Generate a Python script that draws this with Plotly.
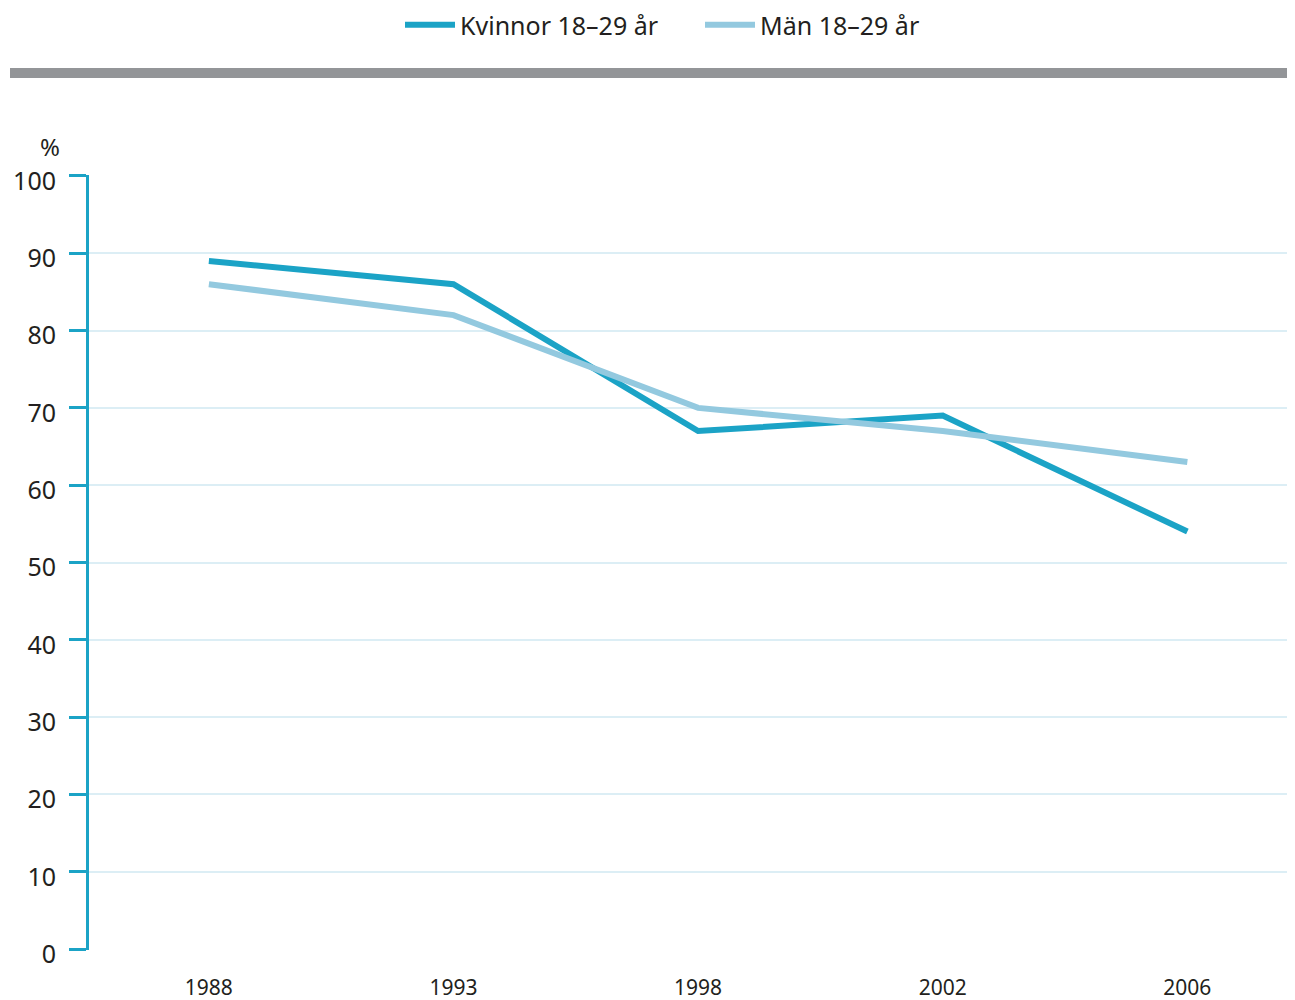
import plotly.graph_objects as go

years = ["1988", "1993", "1998", "2002", "2006"]
kvinnor = [89, 86, 67, 69, 54]
man = [86, 82, 70, 67, 63]
y_ticks = [0, 10, 20, 30, 40, 50, 60, 70, 80, 90, 100]

# page has 8px body margin; figure sized so plot sits at page x 89..1295, y 175..950
OFF = 8
W, H = 1295 - OFF, 1000 - OFF
L, T = 89 - OFF, 175 - OFF
B = H - (950 - OFF)
PW = W - L
PH = H - T - B

fig = go.Figure()
fig.add_trace(go.Scatter(x=years, y=kvinnor, mode="lines", name="Kvinnor 18–29 år",
                         line=dict(color="#1ba3c6", width=6)))
fig.add_trace(go.Scatter(x=years, y=man, mode="lines", name="Män 18–29 år",
                         line=dict(color="#93c9df", width=6)))

fig.update_layout(
    width=W, height=H,
    margin=dict(l=L, r=0, t=T, b=B, autoexpand=False),
    paper_bgcolor="white", plot_bgcolor="white",
    font=dict(family="Noto Sans", color="#231f20"),
    showlegend=True,
    legend=dict(orientation="h", x=(400 - OFF) / W, xanchor="left", xref="container",
                y=1 - (25 - OFF) / H, yanchor="middle", yref="container",
                font=dict(size=25, family="Noto Sans", color="#231f20"),
                itemwidth=50, entrywidth=235, entrywidthmode="pixels"),
    xaxis=dict(type="category", range=[-0.49, 4.44], showgrid=False, zeroline=False,
               showline=False, ticks="", ticklabelstandoff=23,
               tickfont=dict(size=21, family="Noto Sans", color="#231f20")),
    yaxis=dict(range=[-0.12, 100.12], tickvals=y_ticks, showgrid=True, gridcolor="#dceef5", gridwidth=2,
               zeroline=False, showline=True, linecolor="#1ba3c6", linewidth=3,
               ticks="outside", ticklen=17, tickwidth=3, tickcolor="#1ba3c6",
               tickfont=dict(size=25, color="#231f20"), ticklabelstandoff=8, ticklabelshift=5),
)

fig.add_shape(type="rect", xref="paper", yref="paper", x0=(10 - 89) / PW, x1=1.0,
              y0=(950 - 78) / PH, y1=(950 - 68) / PH, fillcolor="#939598", line=dict(width=0))
fig.add_annotation(text="%", xref="paper", yref="paper", x=(62 - 89) / PW, y=(950 - 146) / PH,
                   xanchor="right", yanchor="middle", showarrow=False, font=dict(size=24, color="#231f20"))

fig.write_html("out.html")
